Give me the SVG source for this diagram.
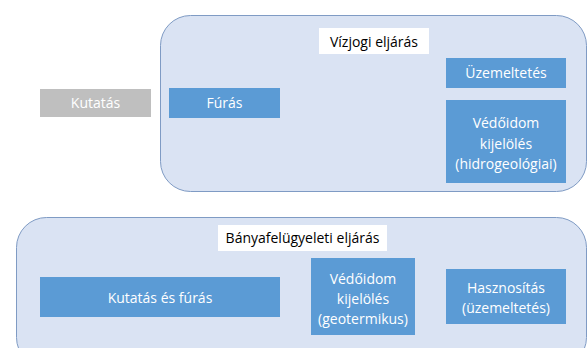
<svg xmlns="http://www.w3.org/2000/svg" width="587" height="348" viewBox="0 0 587 348">
<style>
.cont{fill:#DAE3F3;stroke:#7F9BC4;stroke-width:1}
.blue{fill:#5B9BD5}
.grey{fill:#BFBFBF}
.lbl{fill:#FFFFFF}
text{font-family:"Open Sans","Liberation Sans",sans-serif;font-size:14px;text-anchor:middle;dominant-baseline:central}
.w{fill:#FFFFFF}
.k{fill:#000000}
</style>
<rect width="587" height="348" fill="#FFFFFF"/>
<g id="vizjogi">
<rect class="cont" x="160.5" y="15.5" width="426" height="176" rx="30"/>
<rect class="lbl" x="319" y="28" width="110" height="26"/>
<text class="k" x="374" y="41">Vízjogi eljárás</text>
</g>
<g id="banya">
<rect class="cont" x="16.5" y="217.5" width="570" height="150" rx="30"/>
<rect class="lbl" x="218" y="225" width="169" height="26"/>
<text class="k" x="302.5" y="237">Bányafelügyeleti eljárás</text>
</g>
<g id="kutatas">
<rect class="grey" x="40" y="89" width="111" height="28"/>
<text class="w" x="95.5" y="102.5">Kutatás</text>
</g>
<g id="furas">
<rect class="blue" x="169" y="88" width="111" height="30"/>
<text class="w" x="224.5" y="102.5">Fúrás</text>
</g>
<g id="uzemeltetes">
<rect class="blue" x="446" y="58" width="120" height="30"/>
<text class="w" x="506" y="72.5">Üzemeltetés</text>
</g>
<g id="vedoidom-hidro">
<rect class="blue" x="446" y="100" width="120" height="83"/>
<text class="w" x="506" y="122.5">Védőidom</text>
<text class="w" x="506" y="143">kijelölés</text>
<text class="w" x="506" y="163.5">(hidrogeológiai)</text>
</g>
<g id="kutatas-furas">
<rect class="blue" x="40" y="277" width="240" height="40"/>
<text class="w" x="160" y="297.5">Kutatás és fúrás</text>
</g>
<g id="vedoidom-geo">
<rect class="blue" x="311" y="258" width="104" height="77"/>
<text class="w" x="363" y="278.5">Védőidom</text>
<text class="w" x="363" y="298.5">kijelölés</text>
<text class="w" x="363" y="318">(geotermikus)</text>
</g>
<g id="hasznositas">
<rect class="blue" x="446" y="269" width="120" height="55"/>
<text class="w" x="506" y="287.5">Hasznosítás</text>
<text class="w" x="506" y="307.5">(üzemeltetés)</text>
</g>
<g id="connectors"></g>
</svg>
